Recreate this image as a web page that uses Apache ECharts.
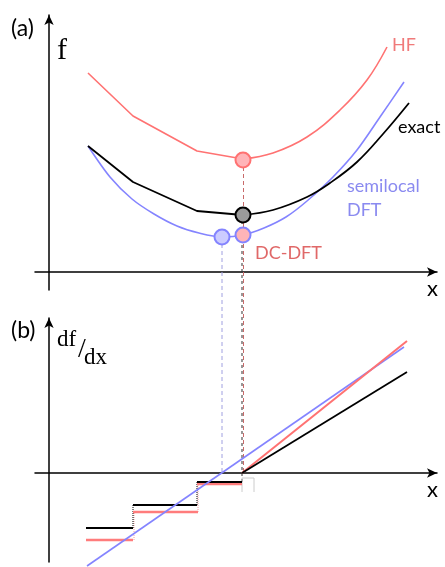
<!DOCTYPE html>
<html>
<head>
<meta charset="utf-8">
<script src="https://cdn.jsdelivr.net/npm/echarts@6/dist/echarts.min.js"></script>
<style>
  html, body { margin: 0; padding: 0; background: #fff; }
  #main { width: 445px; height: 567px; }
</style>
</head>
<body>
<div id="main"></div>
<script>
// schematic units (origin = where the axes cross)
// panel (a): f(x)
var hfLeft = [[39, 199], [84, 156], [148, 121], [194, 113]];
var hfRight = [[194, 113], [224, 119], [258, 135], [291, 162], [318, 192], [338, 225]];
var exactLeft = [[39, 126], [84, 90], [148, 61], [194, 57]];
var exactRight = [[194, 57], [224, 62], [258, 75], [281, 89], [308, 110], [334, 138], [360, 169]];
var semilocal = [[39, 126], [61, 95], [83, 73], [105, 58], [128, 46], [150, 39], [173, 35], [194, 37],
                 [215, 44], [237, 55], [258, 71], [284, 95], [308, 122], [331, 155], [355, 190]];
var minHF = [194, 112];
var minExact = [194, 57];
var minSemi = [173, 35];
var minDC = [194, 37];

// panel (b): df/dx
var semiSlope = [[38, -93], [355, 126]];
var hfSteps = [[[37, -67], [84, -67]], [[84, -39], [149, -39]], [[148, -11], [193, -11]]];
var hfSlope = [[193, 0], [358, 132]];
var exactSteps = [[[37, -55], [84, -55]], [[84, -32], [148, -32]], [[148, -9], [193, -9]]];
var exactSlope = [[193, 0], [358, 101]];
var exactRisers = [[[84, -55], [84, -32]], [[148, -32], [148, -9]]];
var hfRisers = [[[85, -67], [85, -39]], [[149, -39], [149, -11]]];
var bracket = [[193, -19], [193, -5], [205, -5], [205, -19]];

var RED = '#ff7272';
var BLUE = '#8484ff';

var myChart = echarts.init(document.getElementById('main'));

function ln(data, color, width, gi, extra) {
    var s = {
        type: 'line',
        xAxisIndex: gi,
        yAxisIndex: gi,
        data: data,
        symbol: 'none',
        silent: true,
        clip: false,
        lineStyle: { color: color, width: width }
    };
    for (var k in extra) s[k] = extra[k];
    return s;
}

function dot(p, fill, border) {
    return {
        type: 'scatter',
        xAxisIndex: 0,
        yAxisIndex: 0,
        data: [p],
        symbolSize: 15,
        z: 5,
        silent: true,
        itemStyle: { color: fill, borderColor: border, borderWidth: 2, opacity: 1 }
    };
}

var series = [];
// vertical guides
series.push(ln([minSemi, [173, -201]], '#a0a0e0', 1, 0, { lineStyle: { color: '#a0a0e0', width: 1, type: [4, 3] } }));
series.push(ln([[194.5, 112], [194.5, -201]], '#c86a6a', 1, 0, { lineStyle: { color: '#c86a6a', width: 1, type: [4, 3] } }));
series.push(ln([[193, 57], [193, -211]], '#333', 1, 0, { lineStyle: { color: '#333', width: 1, type: [3, 3] } }));

series.push(ln(hfLeft, RED, 1.6, 0));
series.push(ln(hfRight, RED, 1.6, 0, { smooth: 0.4 }));
series.push(ln(semilocal, BLUE, 1.6, 0, { smooth: 0.3 }));
series.push(ln(exactLeft, '#000', 1.8, 0));
series.push(ln(exactRight, '#000', 1.8, 0, { smooth: 0.4 }));

series.push(dot(minHF, '#ffb4b8', RED));
series.push(dot(minExact, '#9a9a9a', '#000'));
series.push(dot(minSemi, '#ccccff', BLUE));
series.push(dot(minDC, '#ffb4b8', BLUE));

// panel b
series.push(ln(bracket, '#cccccc', 1, 1));
hfRisers.forEach(function (r) {
    series.push(ln(r, '#f0a0a0', 1, 1, { lineStyle: { color: '#f0a0a0', width: 1, type: 'dotted' } }));
});
exactRisers.forEach(function (r) {
    series.push(ln(r, '#000', 1, 1, { lineStyle: { color: '#000', width: 1, type: 'dotted' } }));
});
hfSteps.forEach(function (s) { series.push(ln(s, '#ff7c7c', 2.5, 1)); });
exactSteps.forEach(function (s) { series.push(ln(s, '#000', 2, 1)); });
series.push(ln(semiSlope, BLUE, 1.6, 1));
series.push(ln(hfSlope, RED, 2, 1));
series.push(ln(exactSlope, '#000', 1.8, 1));

function xAx(gi) {
    return {
        type: 'value', gridIndex: gi, min: -14, max: 388,
        axisLine: { onZero: true, symbol: ['none', 'arrow'], symbolSize: [7, 10], lineStyle: { color: '#000', width: 1.5 } },
        axisTick: { show: false }, axisLabel: { show: false }, splitLine: { show: false }
    };
}
function yAx(gi, mn, mx) {
    return {
        type: 'value', gridIndex: gi, min: mn, max: mx,
        axisLine: { onZero: true, symbol: ['none', 'arrow'], symbolSize: [7, 10], lineStyle: { color: '#000', width: 1.5 } },
        axisTick: { show: false }, axisLabel: { show: false }, splitLine: { show: false }
    };
}

var sans = 'Lato, "Noto Sans", sans-serif';
var serif = '"Liberation Serif", serif';
function txt(x, y, text, size, fam, fill) {
    return {
        type: 'text', x: x, y: y, silent: true, z: 10,
        style: { text: text, fontSize: size, fontFamily: fam, fill: fill || '#000', align: 'left', verticalAlign: 'middle' }
    };
}

var option = {
    animation: false,
    backgroundColor: '#fff',
    grid: [
        { left: 35, top: 15, width: 402, height: 275 },
        { left: 35, top: 318, width: 402, height: 244 }
    ],
    xAxis: [xAx(0), xAx(1)],
    yAxis: [yAx(0, -18, 257), yAx(1, -89, 155)],
    series: series,
    graphic: [
        txt(11, 29, '(a)', 23, sans),
        txt(57, 51, 'f', 30, serif),
        txt(427, 289, 'x', 22, sans),
        txt(11, 331, '(b)', 23, sans),
        txt(57, 340, 'df', 23, serif),
        txt(78, 350, '/', 28, serif),
        txt(84, 358, 'dx', 23, serif),
        txt(427, 490, 'x', 22, sans),
        txt(392, 45, 'HF', 18, sans, '#f07a7a'),
        txt(398, 127, 'exact', 18, sans),
        txt(347, 186, 'semilocal', 18, sans, '#8a8af0'),
        txt(347, 210, 'DFT', 18, sans, '#8a8af0'),
        txt(255, 253, 'DC-DFT', 18, sans, '#e06868')
    ]
};

myChart.setOption(option);
</script>
</body>
</html>
